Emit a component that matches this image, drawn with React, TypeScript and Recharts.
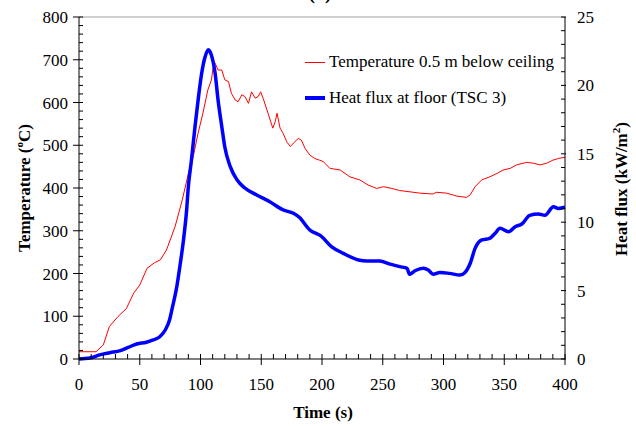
import { Line, LineChart, ReferenceLine, XAxis, YAxis } from "recharts";

// gas temperature 0.5 m below the ceiling (°C)
const tempTime = [
  0, 14, 20, 25, 32, 39, 45, 50, 56, 62, 67, 72, 79, 85, 90, 94, 98, 102, 106, 109,
  110.5, 112, 114.5, 117.5, 120, 123, 125.5, 128.5, 131, 134, 136.5, 139.5, 142, 145,
  147.5, 149.5, 152, 156, 159.5, 161.5, 163, 165.5, 168, 171, 174, 176.5, 180.5, 183,
  186, 190, 194, 198, 201, 206.5, 215, 223, 231, 238, 245, 250.5, 257.5, 264, 272.5,
  280.5, 291.5, 294, 302.5, 311, 319, 322, 326, 331.5, 338, 344, 349, 355, 360, 368.5,
  374, 379.5, 385, 390, 394.5, 400,
];
const tempValue = [
  17, 17, 33, 76, 99, 118, 154, 173, 212, 225, 232, 255, 309, 372, 434, 473, 528, 575, 629, 653,
  684, 692, 676, 676, 653, 649, 621, 606, 602, 618, 614, 598, 625, 610,
  614, 625, 606, 571, 540, 555, 575, 540, 528, 508, 497, 505, 516, 512,
  493, 477, 469, 465, 462, 446, 442, 426, 419, 407, 399, 403, 399, 394, 391,
  388, 386, 390, 388, 381, 378, 384, 403, 419, 426, 434, 442, 446, 454, 460,
  458, 454, 458, 465, 469, 472,
];

// heat flux at floor, TSC 3 (kW/m2)
const fluxTime = [
  0, 9, 17, 25.5, 34, 40.5, 47.5, 55.5, 61, 66.5, 71, 74.5, 77, 80.5, 83, 86, 88.5, 90,
  92.5, 95.5, 98, 101, 103.5, 106.5, 109, 112, 114.5, 117.5, 120, 124.5, 130, 136.5, 146,
  157, 168, 176.5, 182, 187.5, 190, 196, 198, 208, 217.5, 230, 237, 247.5, 256, 264, 270,
  272, 276.5, 283.5, 287.5, 291.5, 297, 305, 313.5, 317.5, 322, 326, 331.5, 338, 342.5,
  346.5, 353.5, 359, 364.5, 371, 378, 383.5, 390.5, 394.5, 400,
];
const fluxValue = [
  0, 0.07, 0.3, 0.46, 0.61, 0.85, 1.1, 1.22, 1.39, 1.63, 2.12, 2.85, 3.82, 5.29, 6.75, 8.7, 10.8, 12.6,
  14.5, 17.0, 18.9, 20.9, 22.0, 22.6, 22.2, 20.9, 18.9, 17.0, 15.5, 14.06, 13.1, 12.5, 12.0,
  11.5, 10.9, 10.65, 10.3, 9.67, 9.43, 9.15, 9.06, 8.2, 7.72, 7.24, 7.16, 7.16, 6.94, 6.75, 6.63,
  6.2, 6.45, 6.63, 6.5, 6.2, 6.33, 6.26, 6.14, 6.31, 7.0, 8.09, 8.7, 8.82, 9.19,
  9.55, 9.3, 9.67, 9.87, 10.5, 10.6, 10.5, 11.13, 11.0, 11.09,
];

const timeTicks = Array.from({ length: 41 }, (_, i) => i * 10);
const tempTicks = Array.from({ length: 41 }, (_, i) => i * 20);
const fluxTicks = Array.from({ length: 26 }, (_, i) => i);

const tempData = tempTime.map((t, i) => ({ t, temp: tempValue[i] }));
const fluxData = fluxTime.map((t, i) => ({ t, flux: fluxValue[i] }));

const FONT = "Liberation Serif, Times New Roman, serif";
const FS = 17;
const txt = { fontFamily: FONT, fontSize: FS, fill: "#000" };

const TimeTick = ({ x, y, payload }: any) => {
  const v = payload.value;
  const major = v % 50 === 0;
  return (
    <g>
      <line x1={x} x2={x} y1={y - 5} y2={major ? y + 6 : y} stroke="#000" strokeWidth={1} />
      {major && (
        <text x={x} y={y + 31} textAnchor="middle" style={txt}>
          {v}
        </text>
      )}
    </g>
  );
};

const TempTick = ({ x, y, payload }: any) => {
  const v = payload.value;
  const major = v % 100 === 0;
  return (
    <g>
      <line x1={major ? x - 6 : x} x2={x + 4} y1={y} y2={y} stroke="#000" strokeWidth={1} />
      {major && (
        <text x={x - 11} y={y + 6} textAnchor="end" style={txt}>
          {v}
        </text>
      )}
    </g>
  );
};

const FluxTick = ({ x, y, payload }: any) => {
  const v = payload.value;
  const major = v % 5 === 0;
  return (
    <g>
      <line x1={x - 4} x2={major ? x + 1 : x} y1={y} y2={y} stroke="#000" strokeWidth={1} />
      {major && (
        <text x={x + 12} y={y + 6} textAnchor="start" style={txt}>
          {v}
        </text>
      )}
    </g>
  );
};

// legend drawn as an overlay so it doesn't take room from the plot
const LegendBox = () => (
  <div
    style={{
      position: "absolute",
      left: 305,
      top: 44,
      fontFamily: FONT,
      fontSize: FS,
      color: "#000",
      lineHeight: "36px",
      whiteSpace: "nowrap",
    }}
  >
    <div style={{ display: "flex", alignItems: "center" }}>
      <span style={{ width: 20, height: 1, background: "#ff0000", marginRight: 4 }} />
      Temperature 0.5 m below ceiling
    </div>
    <div style={{ display: "flex", alignItems: "center" }}>
      <span style={{ width: 20, height: 4, background: "#0000ff", marginRight: 4 }} />
      Heat flux at floor (TSC 3)
    </div>
  </div>
);

export default function App() {
  return (
    <div style={{ position: "absolute", left: 0, top: 0, width: 636, height: 426, background: "#fff", overflow: "hidden" }}>
      <div
        style={{
          position: "absolute",
          left: 0,
          width: 636,
          top: -19,
          textAlign: "center",
          fontFamily: FONT,
          fontWeight: "bold",
          fontSize: 20,
          paddingLeft: 2,
        }}
      >
        (a)
      </div>
      <LineChart width={636} height={426} margin={{ top: 17, right: 0, bottom: 0, left: 0 }}>
        <XAxis
          type="number"
          dataKey="t"
          domain={[0, 400]}
          ticks={timeTicks}
          interval={0}
          height={67}
          tickSize={0}
          tickMargin={0}
          tickLine={false}
          tick={<TimeTick />}
          axisLine={{ stroke: "#000" }}
          allowDuplicatedCategory={false}
          label={{
            content: () => (
              <text x={323} y={418} textAnchor="middle" style={{ ...txt, fontWeight: "bold" }}>
                Time (s)
              </text>
            ),
          }}
        />
        <YAxis
          yAxisId="temp"
          orientation="left"
          domain={[0, 800]}
          ticks={tempTicks}
          interval={0}
          width={79}
          tickSize={0}
          tickMargin={0}
          tickLine={false}
          tick={<TempTick />}
          axisLine={{ stroke: "#000" }}
          label={{
            content: () => (
              <text
                x={30}
                y={188}
                transform="rotate(-90, 30, 188)"
                textAnchor="middle"
                style={{ ...txt, fontWeight: "bold" }}
              >
                Temperature (
                <tspan dy={-7} fontSize={11}>
                  o
                </tspan>
                <tspan dy={7}>C)</tspan>
              </text>
            ),
          }}
        />
        <YAxis
          yAxisId="flux"
          orientation="right"
          domain={[0, 25]}
          ticks={fluxTicks}
          interval={0}
          width={71}
          tickSize={0}
          tickMargin={0}
          tickLine={false}
          tick={<FluxTick />}
          axisLine={{ stroke: "#000" }}
          label={{
            content: () => (
              <text
                x={627}
                y={189}
                transform="rotate(-90, 627, 189)"
                textAnchor="middle"
                style={{ ...txt, fontWeight: "bold" }}
              >
                Heat flux (kW/m
                <tspan dy={-7} fontSize={11}>
                  2
                </tspan>
                <tspan dy={7}>)</tspan>
              </text>
            ),
          }}
        />
        <ReferenceLine yAxisId="temp" y={800} stroke="#a0a0a0" strokeWidth={1} />
        <Line
          yAxisId="temp"
          data={tempData}
          dataKey="temp"
          name="Temperature 0.5 m below ceiling"
          type="linear"
          stroke="#ff0000"
          strokeWidth={1}
          dot={false}
          isAnimationActive={false}
        />
        <Line
          yAxisId="flux"
          data={fluxData}
          dataKey="flux"
          name="Heat flux at floor (TSC 3)"
          type="monotone"
          stroke="#0000ff"
          strokeWidth={3.5}
          dot={false}
          isAnimationActive={false}
        />
      </LineChart>
      <LegendBox />
    </div>
  );
}
